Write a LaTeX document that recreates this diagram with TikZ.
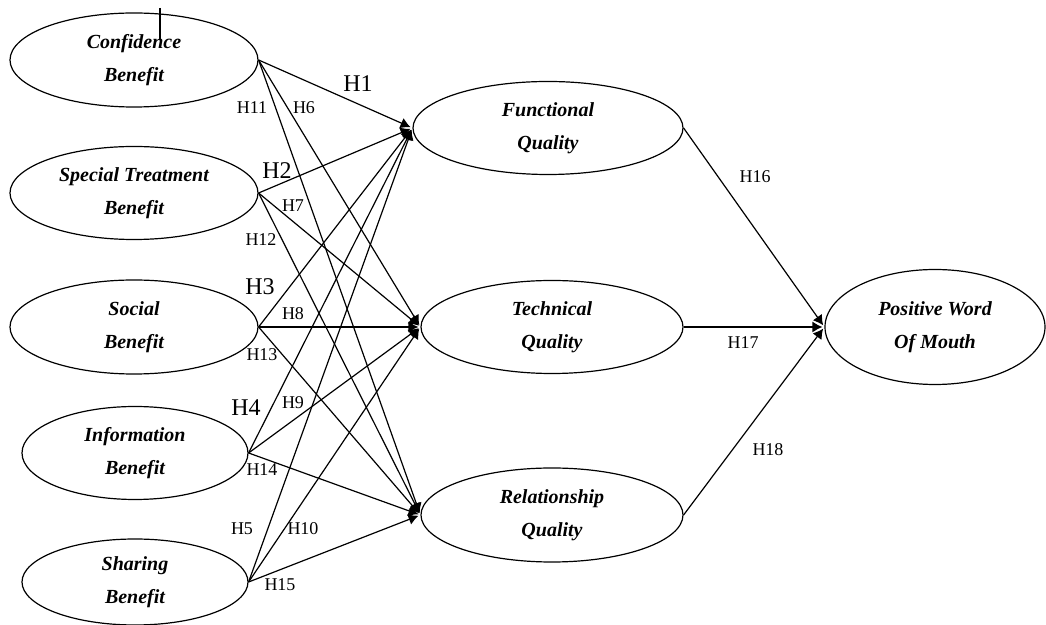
\documentclass[tikz,border=0pt]{standalone}
\usepackage{fontspec}
\setmainfont{Liberation Serif}
\usetikzlibrary{arrows.meta,shapes}

\begin{document}
\begin{tikzpicture}[x=0.5pt,y=-0.5pt,line width=0.6pt,
    construct/.style={draw, ellipse, inner sep=0pt, align=center,
      font=\fontsize{10}{16.5}\selectfont\bfseries\itshape},
    hyp/.style={font=\fontsize{9}{10}\selectfont, inner sep=0pt},
    hypbig/.style={font=\fontsize{12}{13}\selectfont, inner sep=0pt},
    path/.style={-{Latex[length=5pt,width=5.5pt]}, shorten >=1pt}]
    \useasboundingbox (0,0) rectangle (1046,625);
    % antecedents
    \node[construct, minimum width=124pt, minimum height=47pt] (cb) at (134,60) {Confidence\\Benefit};
    \node[construct, minimum width=124pt, minimum height=46.5pt] (stb) at (134,193) {Special Treatment\\Benefit};
    \node[construct, minimum width=124pt, minimum height=47pt] (sb) at (134,327) {Social\\Benefit};
    \node[construct, minimum width=113pt, minimum height=46.5pt] (ib) at (135,453) {Information\\Benefit};
    \node[construct, minimum width=113pt, minimum height=43pt] (shb) at (135,582) {Sharing\\Benefit};
    \draw[line width=0.9pt] (160,8) -- (160,40);
    % relationship quality dimensions
    \node[construct, minimum width=135pt, minimum height=46.5pt] (fq) at (548,128) {Functional\\Quality};
    \node[construct, minimum width=131pt, minimum height=46.5pt] (tq) at (552,327) {Technical\\Quality};
    \node[construct, minimum width=131pt, minimum height=47pt] (rq) at (552,515) {Relationship\\Quality};
    % outcome
    \node[construct, minimum width=110pt, minimum height=57.5pt] (pwom) at (935,327) {Positive Word\\Of Mouth};
    % benefits -> quality
    \foreach \src in {cb,stb,sb,ib,shb}
      \foreach \dst in {fq,tq,rq}
        \draw[path] (\src.east) -- (\dst.west);
    % quality -> word of mouth
    \foreach \src in {fq,tq,rq}
      \draw[path] (\src.east) -- (pwom.west);
    % hypothesis labels
    \node[hypbig] (h1) at (358,84) {H1};
    \node[hypbig] (h2) at (277,171) {H2};
    \node[hypbig] (h3) at (260,287) {H3};
    \node[hypbig] (h4) at (246,408) {H4};
    \node[hyp] (h5) at (242,529) {H5};
    \node[hyp] (h6) at (304,108) {H6};
    \node[hyp] (h7) at (293,206) {H7};
    \node[hyp] (h8) at (293,314) {H8};
    \node[hyp] (h9) at (293,403) {H9};
    \node[hyp] (h10) at (303,529) {H10};
    \node[hyp] (h11) at (252,108) {H11};
    \node[hyp] (h12) at (261,240) {H12};
    \node[hyp] (h13) at (262,355) {H13};
    \node[hyp] (h14) at (262,470) {H14};
    \node[hyp] (h15) at (280,585) {H15};
    \node[hyp] (h16) at (755,177) {H16};
    \node[hyp] (h17) at (743,343) {H17};
    \node[hyp] (h18) at (768,450) {H18};
  \end{tikzpicture}
\end{document}
